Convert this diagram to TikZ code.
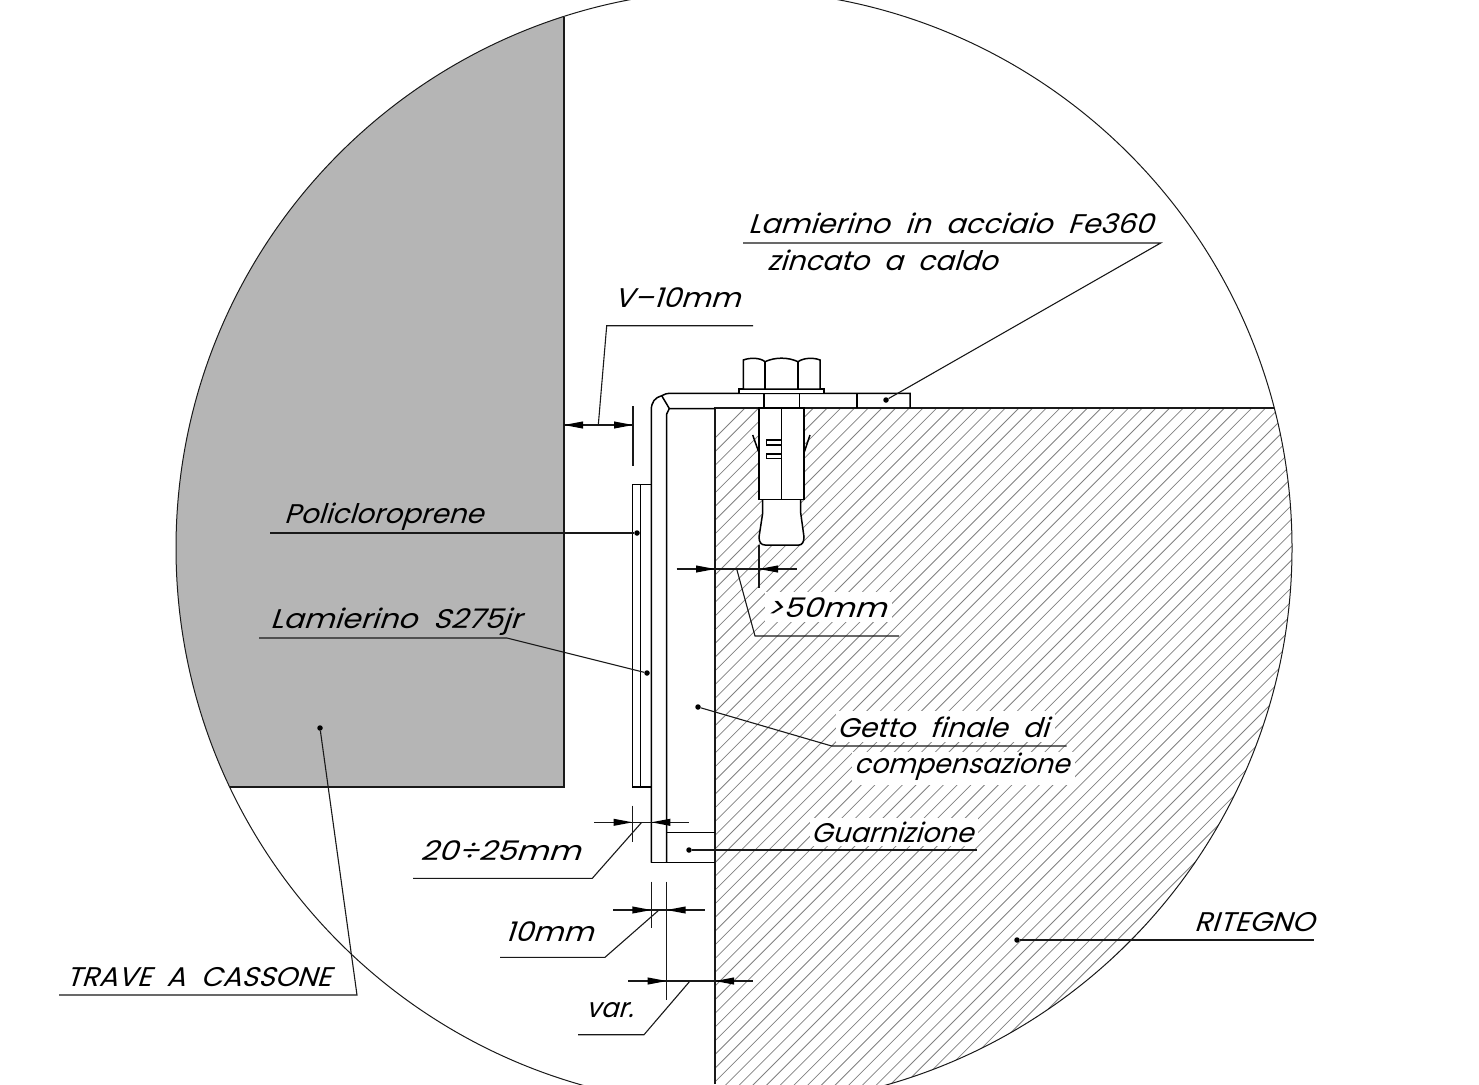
\documentclass[tikz,border=0pt]{standalone}
\usepackage{graphicx}
\usepackage{fontspec}
\newfontfamily\cadfont{Poppins}[FakeSlant=0.3]
\newcommand{\fitw}[2]{\resizebox{#1pt}{\height}{#2}}
\tikzset{
 ln/.style={line width=1.5pt,black},
 thick ln/.style={line width=2.8pt,black!90},
 hatch/.style={line width=0.8pt,black!50},
 lead/.style={line width=1.1pt,black!90},
 lab/.style={inner sep=0pt,anchor=base west,font=\cadfont\fontsize{27}{27}\selectfont},
 dotn/.style={circle,fill=black,inner sep=0pt,minimum size=5.5pt},
}
\newcommand{\tipR}[2]{\fill[black] (#1,#2) -- ++(-19,-3.6) -- ++(0,7.2) -- cycle;}
\newcommand{\tipL}[2]{\fill[black] (#1,#2) -- ++(19,-3.6) -- ++(0,7.2) -- cycle;}
\begin{document}
\begin{tikzpicture}[x=1pt,y=-1pt]
\useasboundingbox (0,0) rectangle (1479,1084);
\begin{scope}
\clip (0,0) rectangle (1479,1084);
\coordinate (c) at (734,548);
% beam
\begin{scope}
\clip (c) circle (558);
\fill[black!29] (0,0) rectangle (564,787);
\end{scope}
% hatch
\begin{scope}
\clip (715,408) rectangle (1479,1084);
\clip (c) circle (558);
\foreach \k in {0,...,100} {
  \draw[hatch] ({1153+\k*13.7-408+100},308) -- ++(-900,900);
}
\fill[white] (765,592) rectangle (892,622);
\fill[white] (836,711) rectangle (1055,742);
\fill[white] (852,752) rectangle (1075,785);
\fill[white] (810,818) rectangle (978,846);
\end{scope}
\draw[line width=1pt,black!90] (c) circle (558);
\end{scope}
% beam edge
\draw[thick ln] (564,17) -- (564,787) -- (230,787);
% ritegno edge
\draw[thick ln] (715,1084) -- (715,408) -- (1274,408);
% plate
\draw[ln] (651.3,862.7) -- (651.3,410) .. controls (651.3,402) and (655,397.5) .. (661.7,395.7) .. controls (664,394) and (667,393.3) .. (672,393.3) -- (910,393.3) -- (910,408);
\draw[ln] (666.7,862.7) -- (666.7,414) -- (669.3,408.5) -- (715,408.5);
\draw[ln] (661.7,395.7) -- (669.3,408.5);
\draw[ln] (857,393.3) -- (857,408);
\draw[ln] (651.3,862.7) -- (715,862.7);
\draw[ln] (666.7,832.3) -- (715,832.3);
% pad
\draw[ln] (651.3,484.3) -- (632.5,484.3) -- (632.5,787) -- (651.3,787);
\draw[ln] (640.5,484.3) -- (640.5,787);
% bolt
\draw[ln,fill=white] (739,393.3) rectangle (824,389);
\draw[ln,fill=white] (743.3,389) -- (743.3,360) .. controls (750,357.5) and (760,357.5) .. (765,361.7) .. controls (775,357) and (788,357) .. (798,361.7) .. controls (804,357.5) and (814,357.5) .. (820,360) -- (820,389) -- cycle;
\draw[ln] (765,361.7) -- (765,389) (798,361.7) -- (798,389);
\draw[ln] (764,393.3) -- (764,408) (799.3,393.3) -- (799.3,408);
% anchor
\draw[ln,fill=white] (762.7,499) -- (762.7,513) -- (759,537) .. controls (759,542) and (761,545) .. (765,545) -- (799,545) .. controls (802,545) and (804,542) .. (804,537) -- (800.7,513) -- (800.7,499) -- cycle;
\draw[ln,fill=white] (759,408) rectangle (804,499.5);
\draw[ln] (781.7,408) -- (781.7,499.5);
\draw[ln] (781.7,440) -- (766.7,440) -- (766.7,445) -- (781.7,445);
\draw[ln] (781.7,454) -- (766.7,454) -- (766.7,458.7) -- (781.7,458.7);
\draw[ln] (752.7,435) -- (758.6,451.7) (810,435) -- (804.4,451.7);
% V-10
\coordinate (v1) at (598.3,425); \coordinate (v2) at (606.7,325.7); \coordinate (v3) at (753,325.7);
\draw[lead] (564,425) -- (633,425);
\tipL{564}{425}\tipR{633}{425}
\draw[lead] (633,406) -- (633,466);
\draw[lead] (v1) -- (v2) -- (v3);
% >50
\draw[lead] (676.7,569) -- (796.7,569);
\tipR{715}{569}\tipL{759}{569}
\draw[lead] (759,545) -- (759,588);
\draw[lead] (736.7,569) -- (755,636) -- (899,636);
% 20:25
\draw[lead] (594,822.3) -- (689.3,822.3);
\tipR{632.5}{822.3}\tipL{651.3}{822.3}
\draw[lead] (632.5,805.7) -- (632.5,841.7);
\draw[lead] (641.7,822.3) -- (592.3,878.3) -- (413,878.3);
% 10mm
\draw[lead] (613,910) -- (705,910);
\tipR{651.3}{910}\tipL{666.7}{910}
\draw[lead] (651.3,881.7) -- (651.3,928.3);
\draw[lead] (666.7,881.7) -- (666.7,1000);
\draw[lead] (659,910) -- (605,957.3) -- (500,957.3);
% var
\draw[lead] (628.3,981) -- (753.3,981);
\tipR{666.7}{981}\tipL{715}{981}
\draw[lead] (690,981) -- (644,1034.7) -- (578,1034.7);
% leaders
\node[dotn] (dA) at (886,400) {};
\draw[lead] (dA) -- (1160.7,243) -- (743,243);
\node[dotn] (dB) at (637,533) {};
\draw[lead] (dB) -- (270,533);
\node[dotn] (dC) at (647,673) {};
\draw[lead] (dC) -- (507,638) -- (259,638);
\node[dotn] (dD) at (698,707) {};
\draw[lead] (dD) -- (831.7,746) -- (1066.7,746);
\node[dotn] (dE) at (689,850) {};
\draw[lead] (dE) -- (977,850);
\node[dotn] (dF) at (320,728) {};
\draw[lead] (dF) -- (357,995) -- (59,995);
\node[dotn] (dG) at (1017,940) {};
\draw[lead] (dG) -- (1314,940);
% text
\node[lab] (t1) at (748,233) {\fitw{405}{Lamierino\ \ in\ \ acciaio\ \ Fe360}};
\node[lab] (t2) at (767,270) {\fitw{230}{zincato\ \ a\ \ caldo}};
\node[lab] (t3) at (614,307) {\fitw{126}{V–10mm}};
\node[lab] (t4) at (766,617) {\fitw{120}{>50mm}};
\node[lab] (t5) at (284,523) {\fitw{199}{Policloroprene}};
\node[lab] (t6) at (270,628) {\fitw{251}{Lamierino\ \ S275jr}};
\node[lab] (t7) at (837,737) {\fitw{211}{Getto\ \ finale\ \ di}};
\node[lab] (t8) at (854,773) {\fitw{215}{compensazione}};
\node[lab] (t9) at (811,842) {\fitw{162}{Guarnizione}};
\node[lab] (t10) at (420,860) {\fitw{160}{20÷25mm}};
\node[lab] (t11) at (505,941) {\fitw{88}{10mm}};
\node[lab] (t12) at (586,1017) {\fitw{47}{var.}};
\node[lab] (t13) at (66,986) {\fitw{265}{TRAVE\ \ A\ \ CASSONE}};
\node[lab] (t14) at (1194,931) {\fitw{120}{RITEGNO}};
\end{tikzpicture}
\end{document}
